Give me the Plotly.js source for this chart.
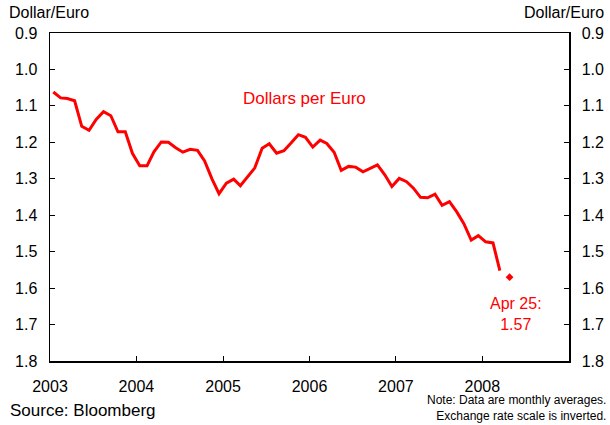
<!DOCTYPE html>
<html>
<head>
<meta charset="utf-8">
<script src="https://cdn.plot.ly/plotly-3.0.1.min.js"></script>
<style>html,body{margin:0;padding:0;background:#fff;}#chart{width:610px;height:425px;}</style>
</head>
<body>
<div id="chart"></div>
<script>
// Monthly average dollars per euro, Jan 2003 – Mar 2008 (plotted mid-month)
const months = [
  "2003-01-15","2003-02-15","2003-03-15","2003-04-15","2003-05-15","2003-06-15","2003-07-15","2003-08-15","2003-09-15","2003-10-15","2003-11-15","2003-12-15",
  "2004-01-15","2004-02-15","2004-03-15","2004-04-15","2004-05-15","2004-06-15","2004-07-15","2004-08-15","2004-09-15","2004-10-15","2004-11-15","2004-12-15",
  "2005-01-15","2005-02-15","2005-03-15","2005-04-15","2005-05-15","2005-06-15","2005-07-15","2005-08-15","2005-09-15","2005-10-15","2005-11-15","2005-12-15",
  "2006-01-15","2006-02-15","2006-03-15","2006-04-15","2006-05-15","2006-06-15","2006-07-15","2006-08-15","2006-09-15","2006-10-15","2006-11-15","2006-12-15",
  "2007-01-15","2007-02-15","2007-03-15","2007-04-15","2007-05-15","2007-06-15","2007-07-15","2007-08-15","2007-09-15","2007-10-15","2007-11-15","2007-12-15",
  "2008-01-15","2008-02-15","2008-03-15"
];
const dollarsPerEuro = [
  1.062,1.078,1.080,1.086,1.156,1.167,1.137,1.116,1.127,1.171,1.171,1.230,
  1.264,1.264,1.226,1.199,1.200,1.215,1.227,1.219,1.222,1.251,1.300,1.341,
  1.312,1.301,1.319,1.294,1.270,1.216,1.204,1.230,1.223,1.202,1.179,1.186,
  1.213,1.194,1.203,1.227,1.277,1.266,1.268,1.281,1.272,1.262,1.289,1.321,
  1.299,1.308,1.325,1.351,1.352,1.342,1.373,1.363,1.391,1.423,1.468,1.456,
  1.473,1.476,1.552
];
const latestDate = ["2008-04-25"];
const latestValue = [1.57];
const yearTicks = ["2003-01-01","2004-01-01","2005-01-01","2006-01-01","2007-01-01","2008-01-01","2009-01-01"];
const yearLabels = ["2003","2004","2005","2006","2007","2008",""];
const yTicks = [0.9,1.0,1.1,1.2,1.3,1.4,1.5,1.6,1.7,1.8];

const RED = "#ff0000";
const FONT = "Liberation Sans, Arial, Helvetica, sans-serif";

const traces = [
  {x: months, y: dollarsPerEuro, type: "scatter", mode: "lines",
   line: {color: RED, width: 3}, hoverinfo: "skip", yaxis: "y"},
  {x: latestDate, y: latestValue, type: "scatter", mode: "markers",
   marker: {color: RED, size: 6, symbol: "diamond"}, hoverinfo: "skip", yaxis: "y"},
  {x: latestDate, y: latestValue, type: "scatter", mode: "markers",
   marker: {color: "rgba(0,0,0,0)", size: 1}, hoverinfo: "skip", yaxis: "y2", showlegend: false}
];

const yCommon = {
  range: [1.8, 0.9], autorange: false,
  tickvals: yTicks, tickformat: ".1f",
  ticks: "inside", ticklen: 5, tickwidth: 1, tickcolor: "#000",
  showgrid: false, zeroline: false,
  showline: true, linecolor: "#000", linewidth: 1.5,
  tickfont: {family: FONT, size: 16, color: "#000"},
  ticklabelstandoff: 8
};

const layout = {
  width: 610, height: 425,
  margin: {l: 50, r: 41, t: 33, b: 64},
  paper_bgcolor: "#fff", plot_bgcolor: "#fff",
  showlegend: false,
  font: {family: FONT, size: 16, color: "#000"},
  xaxis: {
    type: "date", range: ["2003-01-01", "2009-01-01"], autorange: false,
    tickvals: yearTicks, ticktext: yearLabels,
    ticks: "inside", ticklen: 5, tickwidth: 1, tickcolor: "#000",
    showgrid: false, zeroline: false,
    showline: true, linecolor: "#000", linewidth: 1.5, mirror: true,
    tickfont: {family: FONT, size: 16, color: "#000"},
    ticklabelstandoff: 10
  },
  yaxis: Object.assign({}, yCommon, {side: "left"}),
  yaxis2: Object.assign({}, yCommon, {side: "right", overlaying: "y"}),
  annotations: [
    {text: "Dollar/Euro", xref: "paper", yref: "paper", x: -0.083, y: 1.064,
     xanchor: "left", yanchor: "middle", showarrow: false, font: {family: FONT, size: 16, color: "#000"}},
    {text: "Dollar/Euro", xref: "paper", yref: "paper", x: 1.0713, y: 1.064,
     xanchor: "right", yanchor: "middle", showarrow: false, font: {family: FONT, size: 16, color: "#000"}},
    {text: "Dollars per Euro", xref: "paper", yref: "paper", x: (304 - 50) / 519, y: (361 - 99) / 328,
     xanchor: "center", yanchor: "middle", showarrow: false, font: {family: FONT, size: 17, color: RED}},
    {text: "Apr 25:<br>1.57", xref: "paper", yref: "paper", x: (516 - 50) / 519, y: (361 - 314) / 328,
     xanchor: "center", yanchor: "middle", align: "center", showarrow: false, font: {family: FONT, size: 16, color: RED}},
    {text: "Source: Bloomberg", xref: "paper", yref: "paper", x: (8 - 50) / 519, y: (361 - 410) / 328,
     xanchor: "left", yanchor: "middle", showarrow: false, font: {family: FONT, size: 17, color: "#000"}},
    {text: "Note: Data are monthly averages.<br>Exchange rate scale is inverted.", xref: "paper", yref: "paper",
     x: (608 - 50) / 519, y: (361 - 407.5) / 328, xanchor: "right", yanchor: "middle", align: "right",
     showarrow: false, font: {family: FONT, size: 12, color: "#000"}}
  ]
};

Plotly.newPlot("chart", traces, layout, {staticPlot: true, displayModeBar: false});
</script>
</body>
</html>
